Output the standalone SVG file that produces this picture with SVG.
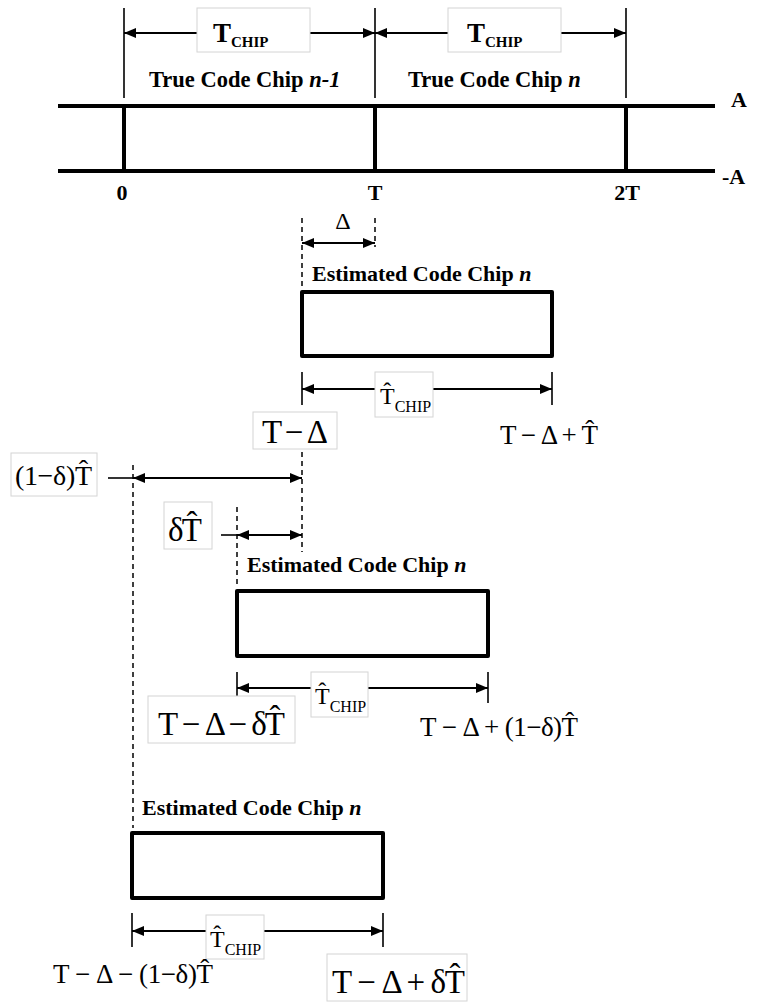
<svg xmlns="http://www.w3.org/2000/svg" width="759" height="1007" viewBox="0 0 759 1007">
<defs>
<style>
.thin{stroke:#000;stroke-width:1.6;fill:none}
.thick{stroke:#000;stroke-width:4;fill:none;stroke-linecap:square}
.dash{stroke:#000;stroke-width:1.5;fill:none;stroke-dasharray:5 4}
.arr{stroke:#000;stroke-width:2;fill:none;marker-start:url(#ah);marker-end:url(#ah)}
.box{stroke:#000;stroke-width:4;fill:none;stroke-linejoin:round}
.lbl{fill:#fff;stroke:#d4d4d4;stroke-width:1}
.b{font-family:"Liberation Serif","Times New Roman",serif;font-weight:bold;fill:#000}
.r{font-family:"Liberation Serif","Times New Roman",serif;fill:#000}
</style>
<marker id="ah" viewBox="0 0 12 10" refX="12" refY="5" markerWidth="12" markerHeight="10" markerUnits="userSpaceOnUse" orient="auto-start-reverse">
<path d="M0,0 L12,5 L0,10 z" fill="#000"/>
</marker>
</defs>
<rect width="759" height="1007" fill="#fff"/>

<g id="connectors">
<line class="thin" x1="124" y1="8" x2="124" y2="98"/>
<line class="thin" x1="375" y1="8" x2="375" y2="98"/>
<line class="thin" x1="626" y1="8" x2="626" y2="98"/>
<line class="arr" x1="124" y1="33" x2="375" y2="33"/>
<line class="arr" x1="375" y1="33" x2="626" y2="33"/>
<line class="dash" x1="302" y1="218" x2="302" y2="290"/>
<line class="dash" x1="375" y1="218" x2="375" y2="247"/>
<line class="arr" x1="302" y1="243" x2="375" y2="243"/>
<line class="thin" x1="302" y1="372" x2="302" y2="405"/>
<line class="thin" x1="552" y1="372" x2="552" y2="405"/>
<line class="arr" x1="302" y1="389" x2="552" y2="389"/>
<line class="dash" x1="302" y1="452" x2="302" y2="552"/>
<line class="dash" x1="133" y1="465" x2="133" y2="828"/>
<line class="dash" x1="237" y1="507" x2="237" y2="587"/>
<line class="thin" x1="108" y1="478" x2="133" y2="478"/>
<line class="arr" x1="133" y1="478" x2="302" y2="478"/>
<line class="thin" x1="221" y1="535" x2="237" y2="535"/>
<line class="arr" x1="237" y1="535" x2="302" y2="535"/>
<line class="thin" x1="237" y1="672" x2="237" y2="703"/>
<line class="thin" x1="488" y1="672" x2="488" y2="703"/>
<line class="arr" x1="237" y1="688" x2="488" y2="688"/>
<line class="thin" x1="132" y1="913" x2="132" y2="947"/>
<line class="thin" x1="383" y1="913" x2="383" y2="947"/>
<line class="arr" x1="132" y1="931" x2="383" y2="931"/>
</g>

<g id="true-code">
<line class="thick" x1="60" y1="106" x2="713" y2="106"/>
<line class="thick" x1="60" y1="171" x2="713" y2="171"/>
<line class="thick" x1="124" y1="106" x2="124" y2="171"/>
<line class="thick" x1="375" y1="106" x2="375" y2="171"/>
<line class="thick" x1="626" y1="106" x2="626" y2="171"/>
<text class="b" x="149" y="87" font-size="22.5">True Code Chip <tspan font-style="italic">n-1</tspan></text>
<text class="b" x="408" y="87" font-size="22.5">True Code Chip <tspan font-style="italic">n</tspan></text>
<text class="b" x="731" y="107" font-size="22">A</text>
<text class="b" x="722" y="184" font-size="22">-A</text>
<text class="b" x="122" y="200" font-size="22" text-anchor="middle">0</text>
<text class="b" x="375" y="200" font-size="22" text-anchor="middle">T</text>
<text class="b" x="627" y="200" font-size="22" text-anchor="middle">2T</text>
</g>

<g id="tchip-1">
<rect class="lbl" x="197" y="8" width="113" height="44"/>
<text class="b" x="213" y="42" font-size="27">T<tspan dy="5" font-size="15">CHIP</tspan></text>
</g>
<g id="tchip-2">
<rect class="lbl" x="448" y="8" width="113" height="44"/>
<text class="b" x="467" y="42" font-size="27">T<tspan dy="5" font-size="15">CHIP</tspan></text>
</g>

<g id="delta-label">
<text class="r" x="343" y="229" font-size="24" text-anchor="middle">Δ</text>
</g>

<g id="est-chip-1">
<text class="b" x="312" y="281" font-size="22">Estimated Code Chip <tspan font-style="italic">n</tspan></text>
<rect class="box" x="302" y="292" width="250" height="64"/>
</g>
<g id="that-1">
<rect class="lbl" x="375" y="372" width="58" height="45"/>
<text class="r" x="380" y="404" font-size="24">T&#x302;<tspan dy="8" font-size="16">CHIP</tspan></text>
</g>
<g id="t-minus-delta">
<rect class="lbl" x="253" y="412" width="84" height="37"/>
<text class="r" x="262" y="443" font-size="33" textLength="66">T − Δ</text>
</g>
<g id="t-minus-delta-plus-t">
<text class="r" x="500" y="444" font-size="27" textLength="98">T − Δ + T&#x302;</text>
</g>
<g id="one-minus-delta-t">
<rect class="lbl" x="11" y="453" width="86" height="43"/>
<text class="r" x="15" y="485" font-size="28" textLength="77">(1−δ)T&#x302;</text>
</g>
<g id="delta-t">
<rect class="lbl" x="164" y="502" width="48" height="47"/>
<text class="r" x="168" y="541" font-size="33" textLength="34">δT&#x302;</text>
</g>

<g id="est-chip-2">
<text class="b" x="247" y="572" font-size="22">Estimated Code Chip <tspan font-style="italic">n</tspan></text>
<rect class="box" x="237" y="591" width="251" height="65"/>
</g>
<g id="that-2">
<rect class="lbl" x="311" y="672" width="57" height="45"/>
<text class="r" x="315" y="704" font-size="24">T&#x302;<tspan dy="8" font-size="16">CHIP</tspan></text>
</g>
<g id="t-minus-delta-minus-dt">
<rect class="lbl" x="148" y="696" width="147" height="47"/>
<text class="r" x="158" y="735" font-size="33" textLength="127">T − Δ − δT&#x302;</text>
</g>
<g id="t-minus-delta-plus-1md-t">
<text class="r" x="420" y="736" font-size="27" textLength="158">T − Δ + (1−δ)T&#x302;</text>
</g>

<g id="est-chip-3">
<text class="b" x="142" y="815" font-size="22">Estimated Code Chip <tspan font-style="italic">n</tspan></text>
<rect class="box" x="132" y="833" width="251" height="65"/>
</g>
<g id="that-3">
<rect class="lbl" x="206" y="915" width="58" height="44"/>
<text class="r" x="210" y="947" font-size="24">T&#x302;<tspan dy="8" font-size="16">CHIP</tspan></text>
</g>
<g id="t-minus-delta-minus-1md-t">
<text class="r" x="53" y="983" font-size="27" textLength="160">T − Δ − (1−δ)T&#x302;</text>
</g>
<g id="t-minus-delta-plus-dt">
<rect class="lbl" x="327" y="954" width="140" height="47"/>
<text class="r" x="332" y="993" font-size="33" textLength="133">T − Δ + δT&#x302;</text>
</g>
</svg>
